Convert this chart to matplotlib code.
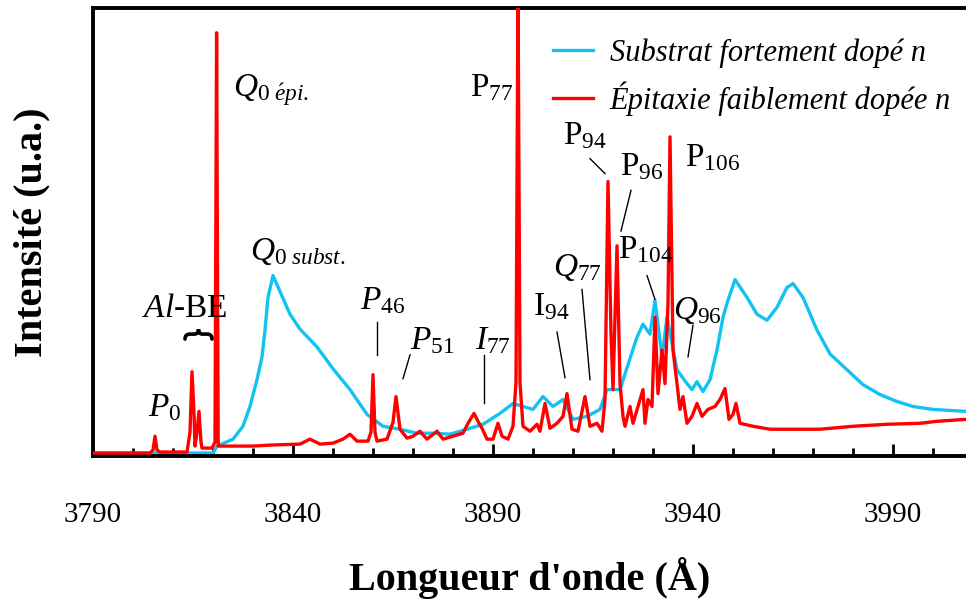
import matplotlib
matplotlib.use("Agg")
import matplotlib.pyplot as plt
from matplotlib.ticker import MultipleLocator
from matplotlib.path import Path
from matplotlib.patches import PathPatch

plt.rcParams['font.family'] = 'Liberation Serif'
plt.rcParams['mathtext.fontset'] = 'custom'
plt.rcParams['mathtext.rm'] = 'Liberation Serif'
plt.rcParams['mathtext.it'] = 'Liberation Serif:italic'
plt.rcParams['mathtext.bf'] = 'Liberation Serif:bold'

# --- Data ---
# substrate, strongly n-doped
wl_sub = [3790, 3820, 3821.0, 3825.0, 3827.5, 3829.25, 3831.0, 3832.25, 3833.0, 3833.75,
          3835.0, 3839.25, 3841.75, 3846.0, 3850.0, 3854.25, 3858.5, 3862.5, 3866.75, 3871.0,
          3875.0, 3879.25, 3883.5, 3887.5, 3891.75, 3895.0, 3897.5, 3900.0, 3902.5, 3905.0,
          3907.5, 3910.0, 3913.5, 3916.75, 3918.5, 3921.75, 3923.5, 3926.0, 3927.5, 3929.25,
          3930.5, 3932.25, 3933.5, 3936.0, 3938.5, 3939.75, 3941.0, 3942.5, 3944.25, 3946.0,
          3947.5, 3948.5, 3950.5, 3953.5, 3956.0, 3958.5, 3961.0, 3963.5, 3965.0, 3967.5,
          3971.0, 3974.25, 3978.5, 3982.5, 3986.75, 3991.0, 3995.0, 4000.0, 4008.25]
int_sub = [-1, -1, 6, 13, 26, 46, 73, 96, 123, 156,
           178, 139, 124, 106, 84, 63, 38, 26, 23, 19,
           19, 18, 23, 28, 39, 49, 46, 43, 56, 46,
           53, 33, 36, 43, 63, 63, 85, 116, 129, 119,
           153, 96, 136, 83, 69, 63, 71, 61, 73, 103,
           136, 150, 174, 156, 139, 133, 146, 166, 170, 156,
           123, 99, 83, 68, 58, 51, 46, 43, 41]

# epitaxy, weakly n-doped
wl_epi = [3789, 3804.25, 3805.0, 3805.5, 3806.0, 3806.75, 3813.5, 3814.25, 3814.75, 3815.25,
          3815.5, 3816.0, 3816.5, 3817.0, 3817.25, 3819.75, 3820.5, 3820.9, 3821.3, 3823.0,
          3830.0, 3834.25, 3841.75, 3844.25, 3846.75, 3850.0, 3852.5, 3854.25, 3856.0, 3858.75,
          3859.5, 3860.0, 3860.5, 3861.0, 3863.5, 3865.0, 3865.75, 3866.75, 3868.5, 3870.0,
          3871.75, 3873.5, 3876.0, 3877.5, 3880.0, 3882.5, 3883.75, 3885.25, 3886.25, 3887.25,
          3888.5, 3890.0, 3891.25, 3892.25, 3893.75, 3895.0, 3895.75, 3896.25, 3896.75, 3897.5,
          3899.25, 3901.0, 3901.75, 3903.0, 3904.25, 3906.0, 3907.5, 3908.5, 3909.75, 3911.25,
          3913.0, 3914.25, 3916.0, 3917.25, 3918.0, 3918.75, 3919.5, 3920.0, 3921.0, 3921.75,
          3922.5, 3923.0, 3924.25, 3925.0, 3926.25, 3927.5, 3928.0, 3928.75, 3929.75, 3930.5,
          3931.25, 3932.25, 3933.0, 3933.75, 3934.25, 3935.0, 3936.0, 3936.75, 3937.5, 3938.5,
          3939.75, 3941.0, 3942.25, 3943.75, 3945.5, 3946.75, 3948.0, 3949.0, 3950.0, 3950.75,
          3951.75, 3955.0, 3959.25, 3967.5, 3971.75, 3980.0, 3988.5, 3996.75, 4001.0, 4008.25]
int_epi = [-1, -1, 2, 16, 2, 0, 0, 20, 81, 40,
           6, 20, 41, 10, 4, 4, 10, 423, 6, 6,
           6, 7, 8, 13, 8, 9, 13, 18, 11, 11,
           20, 78, 20, 11, 13, 30, 56, 23, 14, 16,
           21, 13, 21, 13, 16, 19, 29, 39, 31, 24,
           13, 13, 29, 16, 13, 26, 70, 470, 70, 26,
           21, 28, 21, 49, 24, 29, 36, 59, 23, 21,
           56, 26, 29, 21, 53, 273, 120, 63, 208, 69,
           36, 26, 46, 29, 46, 63, 29, 53, 46, 136,
           59, 103, 69, 150, 318, 103, 69, 43, 56, 29,
           36, 49, 36, 43, 46, 53, 64, 33, 38, 49,
           29, 26, 23, 23, 23, 26, 28, 29, 31, 33]

# peak labels: (text, wavelength, intensity) at text baseline / left edge
labels = [
    (r'$Q_{0\ \mathit{\acute{e}pi.}}$', 3825.0, 359),
    (r'$Q_{0\ \mathit{subst.}}$', 3829.25, 194),
    (r'$P_{\mathit{0}}$', 3803.75, 36),
    (r'$P_{\mathit{46}}$', 3856.75, 144),
    (r'$P_{\mathit{51}}$', 3869.25, 104),
    (r'$I_{\mathit{77}}$', 3885.5, 104),
    (r'$\mathrm{P}_{\mathit{77}}$', 3884.25, 359),
    (r'$\mathrm{I}_{\mathit{94}}$', 3900.0, 138),
    (r'$Q_{\mathit{77}}$', 3905.0, 178),
    (r'$\mathrm{P}_{\mathit{94}}$', 3907.5, 311),
    (r'$\mathrm{P}_{\mathit{96}}$', 3921.75, 279),
    (r'$\mathrm{P}_{\mathit{104}}$', 3921.25, 196),
    (r'$\mathrm{P}_{\mathit{106}}$', 3938.0, 288),
    (r'$Q_{\mathit{96}}$', 3935.0, 134),
]

# leader lines: (wl1, int1, wl2, int2)
leaders = [
    (3861.0, 131, 3861.0, 98),
    (3869.25, 98, 3867.5, 74),
    (3887.75, 98, 3887.75, 49),
    (3906.0, 121, 3908.0, 75),
    (3912.25, 164, 3914.25, 73),
    (3914.25, 296, 3918.0, 281),
    (3924.5, 264, 3922.0, 223),
    (3928.5, 178, 3930.5, 154),
    (3940.0, 128, 3938.75, 96),
]

# Al-BE brace span (wavelength) and height
brace_x0, brace_x1 = 3813.0, 3819.75
brace_y0, brace_ym, brace_y1 = 114, 119, 124

# --- Plot ---
fig = plt.figure(figsize=(9.66, 6.08), dpi=100)
ax = fig.add_axes([93/966, 152/608, 873/966, 448/608])

ax.plot(wl_sub, int_sub, color='#12C3F2', lw=2.4, label='Substrat fortement dopé n', zorder=2)
ax.plot(wl_epi, int_epi, color='#FF0000', lw=2.4, label='Épitaxie faiblement dopée n', zorder=3)

ax.set_xlim(3790, 4008.25)
ax.set_ylim(-4, 448)

for txt, x, y in labels:
    ax.text(x, y, txt, fontsize=24, ha='left', va='baseline', zorder=4)

ax.text(3813.0, 136, r'$Al$-BE', fontsize=24, ha='center', va='baseline')

# curly brace over the Al-BE lines (tip up)
w = brace_x1 - brace_x0
xc = (brace_x0 + brace_x1) / 2
verts = [(brace_x0, brace_y0), (brace_x0, brace_ym), (brace_x0 + 0.18 * w, brace_ym),
         (xc - 0.15 * w, brace_ym), (xc, brace_ym), (xc, brace_y1),
         (xc, brace_ym), (xc + 0.15 * w, brace_ym),
         (brace_x1 - 0.18 * w, brace_ym), (brace_x1, brace_ym), (brace_x1, brace_y0)]
codes = [Path.MOVETO, Path.CURVE3, Path.CURVE3,
         Path.LINETO, Path.CURVE3, Path.CURVE3,
         Path.CURVE3, Path.CURVE3,
         Path.LINETO, Path.CURVE3, Path.CURVE3]
ax.add_patch(PathPatch(Path(verts, codes), fill=False, lw=2.6, color='black',
                       capstyle='round', zorder=4))

for x1, y1, x2, y2 in leaders:
    ax.plot([x1, x2], [y1, y2], color='black', lw=1.0, zorder=4)

# axes styling
for side in ['left', 'top', 'bottom']:
    ax.spines[side].set_linewidth(2.8)
ax.spines['right'].set_visible(False)
ax.set_yticks([])
ax.set_xticks([3790, 3840, 3890, 3940, 3990])
ax.xaxis.set_minor_locator(MultipleLocator(10))
ax.tick_params(axis='x', which='major', direction='in', length=9, width=2, labelsize=21, pad=33)
ax.tick_params(axis='x', which='minor', direction='in', length=6, width=2)

ax.set_xlabel("Longueur d'onde (Å)", fontsize=29, fontweight='bold', labelpad=21)
ax.set_ylabel("Intensité (u.a.)", fontsize=29, fontweight='bold', labelpad=31)

leg = ax.legend(loc='upper left', bbox_to_anchor=(553/966, 1 - 38/608),
                bbox_transform=fig.transFigure, frameon=False,
                handlelength=1.3, handletextpad=0.55, labelspacing=0.45, borderpad=0,
                borderaxespad=0, prop={'style': 'italic', 'size': 22})

fig.savefig("out.png", dpi=100)
